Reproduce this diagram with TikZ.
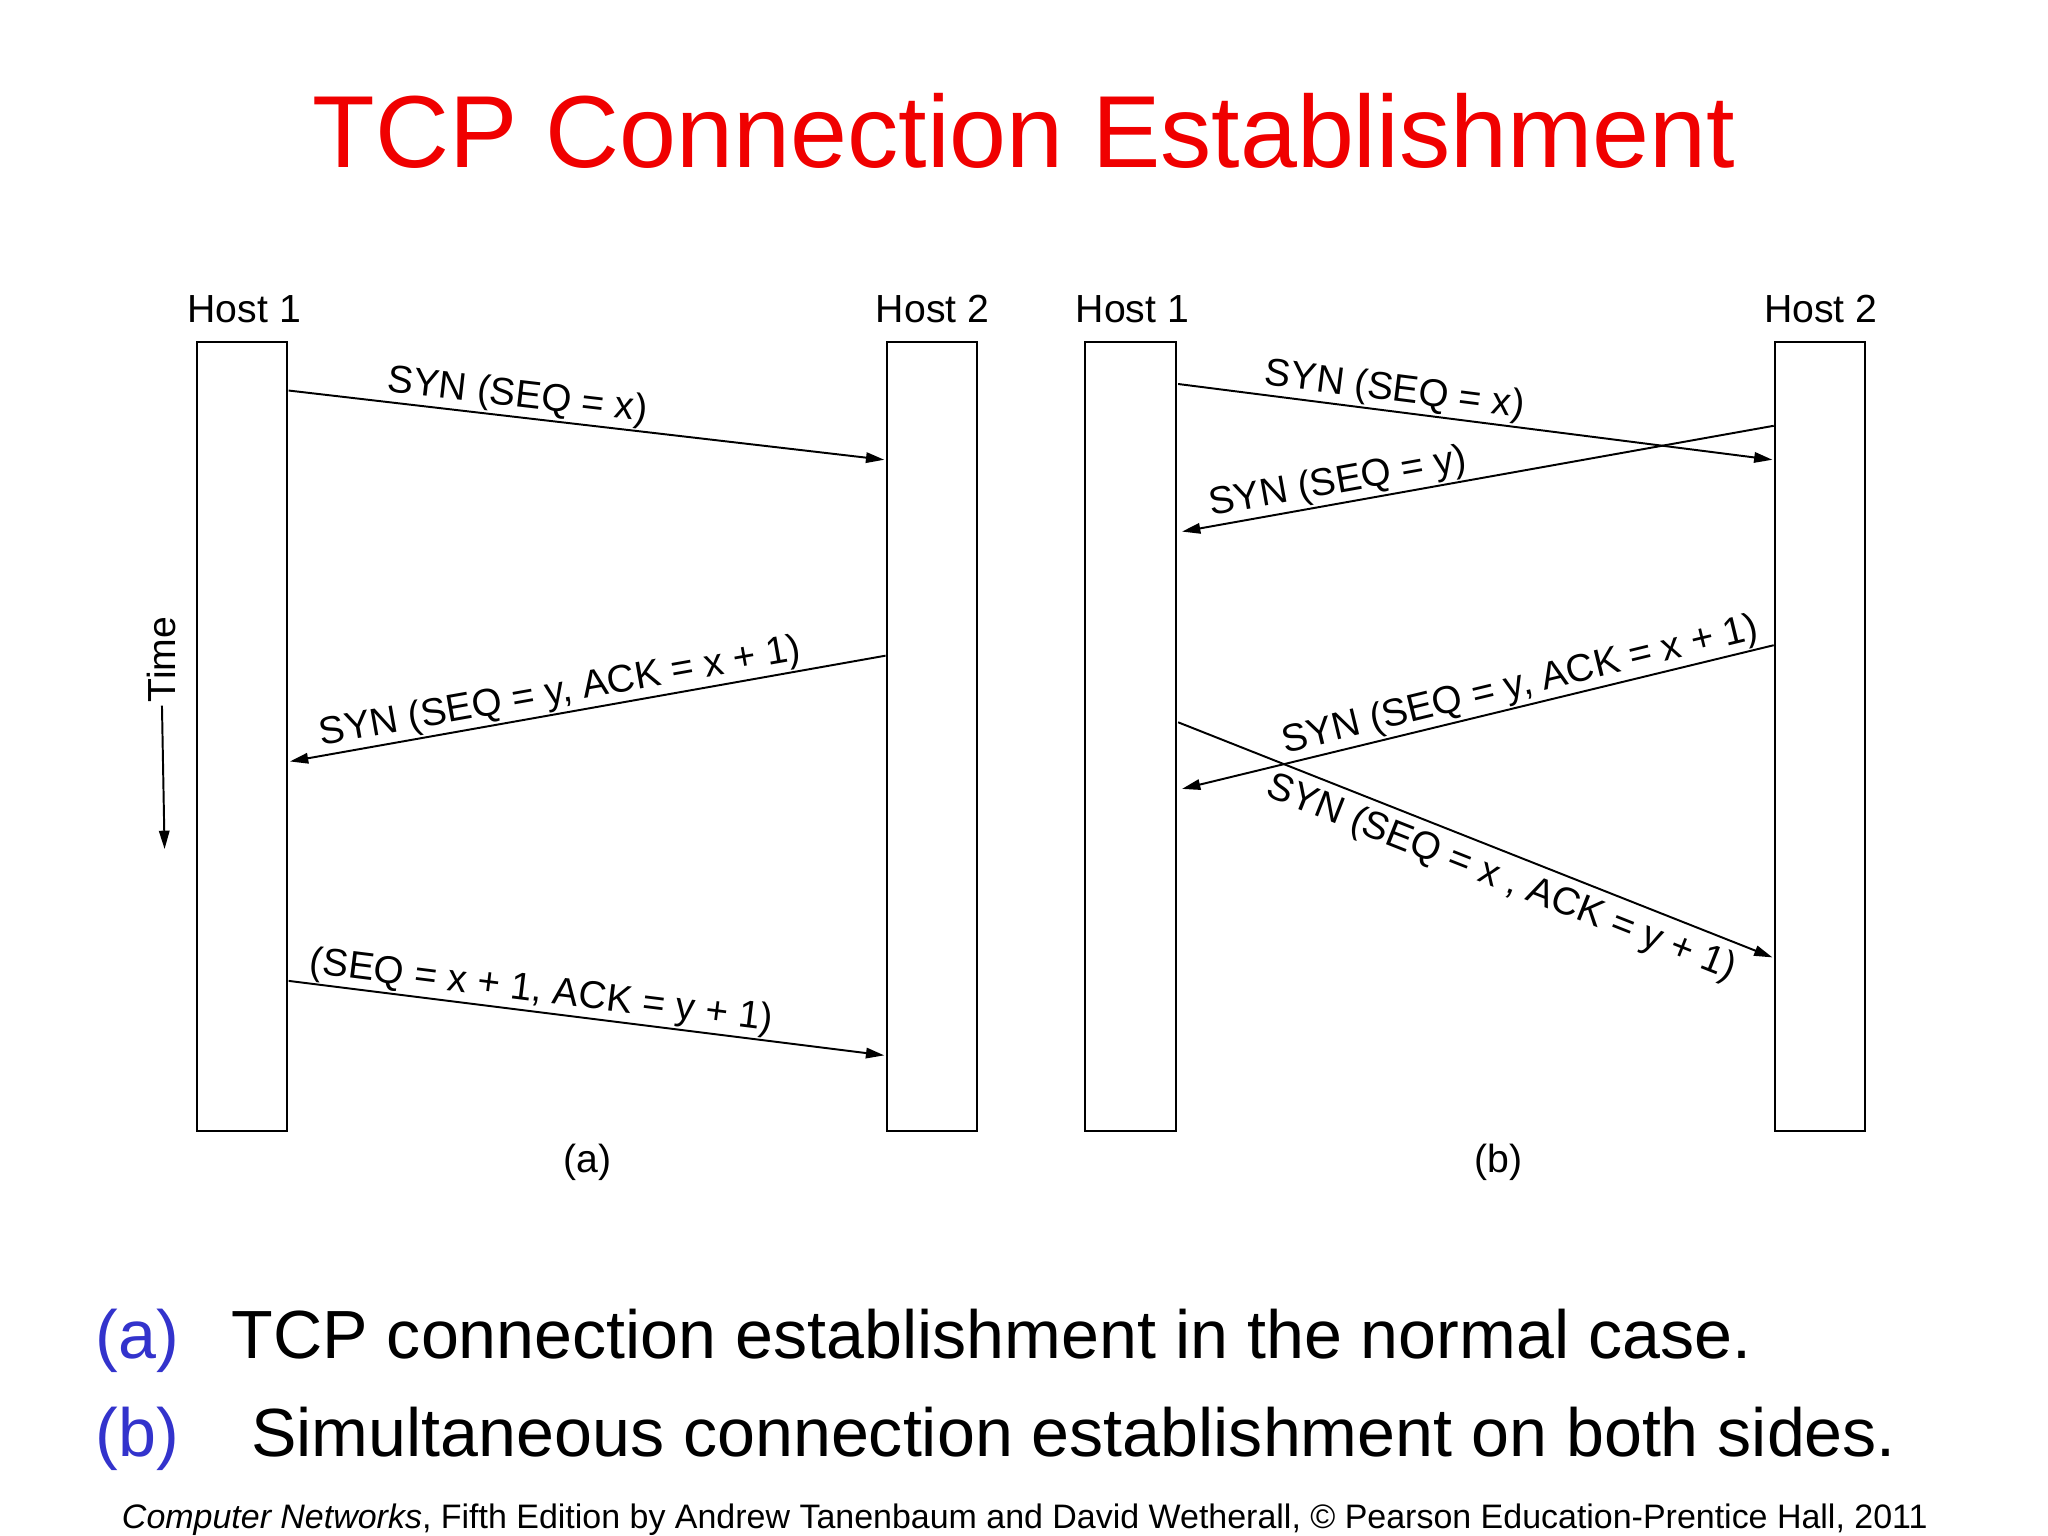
\documentclass[tikz,border=0pt]{standalone}
\usepackage{fontspec}
\setmainfont{Liberation Sans}
\usetikzlibrary{arrows.meta}
\definecolor{titlered}{RGB}{240,0,0}
\definecolor{capblue}{RGB}{51,51,204}
\begin{document}
\begin{tikzpicture}[x=0.5pt,y=-0.5pt,
  hostbox/.style={draw, line width=0.75pt, minimum width=34.5pt, minimum height=302pt, inner sep=0pt},
  hostlbl/.style={font=\fontsize{15}{18}\selectfont, anchor=base, inner sep=0pt},
  msg/.style={line width=0.75pt, -{Triangle[length=7pt,width=4pt]}},
  lbl/.style={font=\fontsize{14.8}{17}\selectfont, sloped, inner sep=0.5pt},
  sublbl/.style={font=\fontsize{15}{18}\selectfont, inner sep=0pt},
  captxt/.style={font=\fontsize{26.1}{30}\selectfont, anchor=base west, inner sep=0pt}]
\useasboundingbox (0,0) rectangle (1568,1176);
\fill[white] (0,0) rectangle (1568,1176);

% title
\node[font=\fontsize{39.2}{44}\selectfont, text=titlered, anchor=base, inner sep=0pt] (title) at (784,128) {TCP Connection Establishment};

% (a) hosts
\node[hostbox] (a1) at (185.5,564) {};
\node[hostbox] (a2) at (713.5,564) {};
\node[hostlbl] (a1l) at (187,247) {Host 1};
\node[hostlbl] (a2l) at (714,247) {Host 2};

% (b) hosts
\node[hostbox] (b1) at (865.5,564) {};
\node[hostbox] (b2) at (1393.5,564) {};
\node[hostlbl] (b1l) at (867,247) {Host 1};
\node[hostlbl] (b2l) at (1394,247) {Host 2};

% time
\node[rotate=90, font=\fontsize{15}{18}\selectfont, inner sep=0pt] (time) at (124,505) {Time};
\coordinate (timeend) at (126,650);
\draw[msg] (time.west) ++(0,2) -- (timeend);

% (a) messages
\coordinate (pa1s) at (221,299);
\coordinate (pa1e) at (677,352);
\coordinate (pa2s) at (678,502);
\coordinate (pa2e) at (222,583);
\coordinate (pa3s) at (221,751);
\coordinate (pa3e) at (677,808);
\draw[msg] (pa1s) -- node[lbl, above, pos=0.38] {SYN (SEQ = x)} (pa1e);
\draw[msg] (pa2s) -- node[lbl, above, pos=0.54] {SYN (SEQ = y, ACK = x + 1)} (pa2e);
\draw[msg] (pa3s) -- node[lbl, above, pos=0.42] {(SEQ = x + 1, ACK = y + 1)} (pa3e);

% (b) messages
\coordinate (pb1s) at (902,294);
\coordinate (pb1e) at (1357,352);
\coordinate (pb2s) at (1358,326);
\coordinate (pb2e) at (905,407);
\coordinate (pb3s) at (1358,494);
\coordinate (pb3e) at (905,604);
\coordinate (pb4s) at (902,553);
\coordinate (pb4e) at (1357,733);
\draw[msg] (pb1s) -- node[lbl, above, pos=0.36] {SYN (SEQ = x)} (pb1e);
\draw[msg] (pb2s) -- node[lbl, above, pos=0.73] {SYN (SEQ = y)} (pb2e);
\draw[msg] (pb3s) -- node[lbl, above, pos=0.42] {SYN (SEQ = y, ACK = x + 1)} (pb3e);
\draw[msg] (pb4s) -- node[lbl, below, pos=0.56, inner sep=3pt] {SYN (SEQ = x , ACK = y + 1)} (pb4e);

% sub labels
\node[sublbl] (suba) at (450,890) {(a)};
\node[sublbl] (subb) at (1147,890) {(b)};

% captions
\node[captxt, text=capblue] (capa) at (73,1040) {(a)};
\node[captxt] (capat) at (177,1040) {TCP connection establishment in the normal case.};
\node[captxt, text=capblue] (capb) at (73,1115) {(b)};
\node[captxt] (capbt) at (192,1115) {Simultaneous connection establishment on both sides.};

% footer
\node[font=\fontsize{13}{15}\selectfont, anchor=base west, inner sep=0pt] (foot) at (93,1170) {\textit{Computer Networks}, Fifth Edition by Andrew Tanenbaum and David Wetherall, © Pearson Education-Prentice Hall, 2011};
\end{tikzpicture}
\end{document}
